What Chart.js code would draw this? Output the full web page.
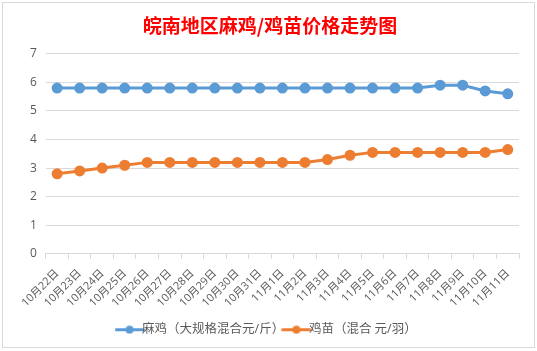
<!DOCTYPE html>
<html>
<head>
<meta charset="utf-8">
<script src="https://cdn.jsdelivr.net/npm/chart.js@4"></script>
<style>
  body { margin: 0; background: #ffffff; }
  #wrap { position: relative; width: 537px; height: 351px; }
</style>
</head>
<body>
<div id="wrap"><canvas id="myChart" width="537" height="351"></canvas></div>
<script>
// datos del grafico
let fechas = ['10月22日','10月23日','10月24日','10月25日','10月26日','10月27日','10月28日','10月29日','10月30日','10月31日',
  '11月1日','11月2日','11月3日','11月4日','11月5日','11月6日','11月7日','11月8日','11月9日','11月10日','11月11日'];
let precioMaji = [5.8,5.8,5.8,5.8,5.8,5.8,5.8,5.8,5.8,5.8,5.8,5.8,5.8,5.8,5.8,5.8,5.8,5.9,5.9,5.7,5.6];
let precioJimiao = [2.8,2.9,3.0,3.1,3.2,3.2,3.2,3.2,3.2,3.2,3.2,3.2,3.3,3.45,3.55,3.55,3.55,3.55,3.55,3.55,3.65];
let ticksY = [0,1,2,3,4,5,6,7];
let nombres = ['麻鸡（大规格混合元/斤）', '鸡苗（混合 元/羽）'];
let colores = ['#5b9bd5', '#ed7d31'];
let titulo = '皖南地区麻鸡/鸡苗价格走势图';

const fuente = "'Open Sans', 'Noto Sans CJK SC', sans-serif";
const gris = '#595959';
const lineaGris = '#d9d9d9';

// icono de leyenda: linea con punto
function iconoLeyenda(color){
  let c = document.createElement('canvas');
  c.width = 30; c.height = 9;
  let g = c.getContext('2d');
  g.strokeStyle = color;
  g.lineWidth = 3;
  g.lineCap = 'round';
  g.beginPath(); g.moveTo(1.5, 4.5); g.lineTo(28.5, 4.5); g.stroke();
  g.fillStyle = color;
  g.beginPath(); g.arc(15, 4.5, 4, 0, Math.PI * 2); g.fill();
  return c;
}

// borde del area del grafico (estilo excel)
const bordeExcel = {
  id: 'bordeExcel',
  beforeDraw(chart){
    let ctx = chart.ctx;
    ctx.save();
    ctx.fillStyle = '#ffffff';
    ctx.fillRect(0, 0, chart.width, chart.height);
    ctx.strokeStyle = lineaGris;
    ctx.lineWidth = 1;
    ctx.strokeRect(2.5, 2.5, 532, 345);
    ctx.restore();
  }
};

const ctx = document.getElementById('myChart').getContext('2d');
let grafico = new Chart(ctx, {
  type: 'line',
  data: {
    labels: fechas,
    datasets: [{
      label: nombres[0],
      data: precioMaji,
      borderColor: colores[0],
      backgroundColor: colores[0],
      borderWidth: 3,
      pointRadius: 4,
      pointStyle: 'circle',
      tension: 0
    },{
      label: nombres[1],
      data: precioJimiao,
      borderColor: colores[1],
      backgroundColor: colores[1],
      borderWidth: 3,
      pointRadius: 4,
      pointStyle: 'circle',
      tension: 0
    }]
  },
  options: {
    responsive: false,
    animation: false,
    layout: { padding: { left: 21, right: 18, top: 9, bottom: 5 } },
    plugins: {
      title: {
        display: true,
        text: titulo,
        color: '#ff0000',
        font: { family: "'Noto Sans CJK SC', sans-serif", size: 19, weight: 'bold' },
        padding: { top: 5, bottom: 17 }
      },
      legend: {
        position: 'bottom',
        labels: {
          color: gris,
          font: { family: fuente, size: 12.5 },
          usePointStyle: true,
          padding: 6,
          generateLabels(chart){
            return chart.data.datasets.map((ds, i) => ({
              text: ds.label,
              fontColor: gris,
              pointStyle: iconoLeyenda(colores[i]),
              strokeStyle: colores[i],
              fillStyle: colores[i],
              lineWidth: 0,
              datasetIndex: i
            }));
          }
        }
      },
      tooltip: { enabled: false }
    },
    scales: {
      x: {
        offset: true,
        grid: { display: true, drawOnChartArea: false, drawTicks: true, tickLength: 5, color: lineaGris, offset: true },
        border: { display: true, color: lineaGris },
        ticks: { color: gris, font: { family: fuente, size: 11 }, minRotation: 45, maxRotation: 45, autoSkip: false, padding: 8 }
      },
      y: {
        min: 0,
        max: 7,
        afterBuildTicks(axis){ axis.ticks = ticksY.map(v => ({ value: v })); },
        grid: { color: lineaGris, drawTicks: false },
        border: { display: false },
        ticks: { color: gris, font: { family: fuente, size: 12 }, padding: 9 }
      }
    }
  },
  plugins: [bordeExcel]
});
</script>
</body>
</html>
